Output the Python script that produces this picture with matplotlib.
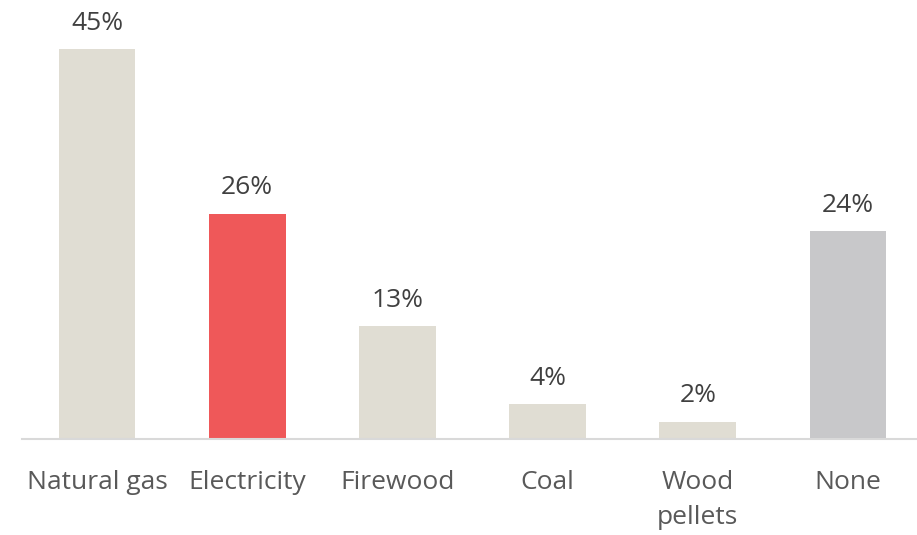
import matplotlib.pyplot as plt

# Datos del grafico
categorias = ["Natural gas", "Electricity", "Firewood", "Coal", "Wood\npellets", "None"]
valores = [45, 26, 13, 4, 2, 24]
etiquetas = ["45%", "26%", "13%", "4%", "2%", "24%"]
colores = ["#e0ddd3", "#ef5859", "#e0ddd3", "#e0ddd3", "#e0ddd3", "#c8c8ca"]

plt.rcParams['font.family'] = ['Open Sans', 'DejaVu Sans']

fig = plt.figure(figsize=(9.17, 5.35), dpi=100)
ax = fig.add_axes([22 / 917, 96 / 535, 895 / 917, 433 / 535])

x = list(range(len(categorias)))
barras = ax.bar(x, valores, width=0.51, color=colores, zorder=2)

# Etiquetas de porcentaje sobre cada barra
for xi, v, txt in zip(x, valores, etiquetas):
    ax.annotate(txt, (xi, v), xytext=(0, 14), textcoords="offset points",
                ha="center", va="baseline", fontsize=19, color="#404040")

ax.set_xlim(-0.5, 5.46)
ax.set_ylim(0, 50)
ax.set_xticks(x)
ax.set_xticklabels(categorias, fontsize=19, color="#595959", linespacing=1.55)
ax.tick_params(axis="x", length=0, pad=22)
ax.set_yticks([])

for lado in ["top", "right", "left"]:
    ax.spines[lado].set_visible(False)
ax.spines["bottom"].set_color("#d9d9d9")
ax.spines["bottom"].set_linewidth(1.5)

fig.savefig("out.png", dpi=100)
plt.close()
